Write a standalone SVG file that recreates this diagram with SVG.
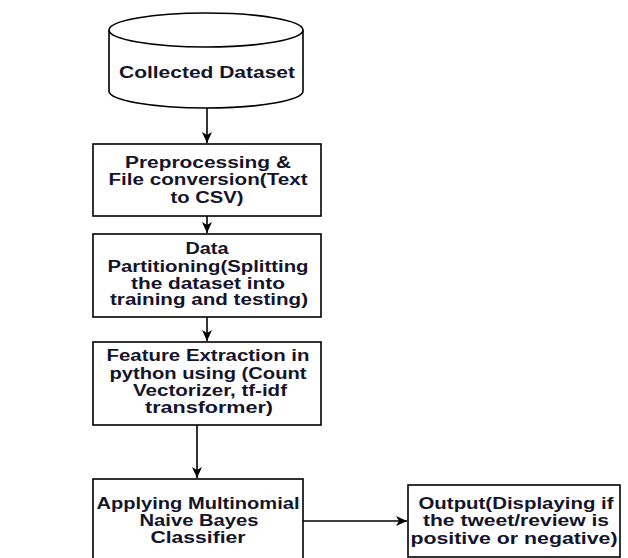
<svg xmlns="http://www.w3.org/2000/svg" width="628" height="558" viewBox="0 0 628 558">
<style>
.shape{fill:#fff;stroke:#000;stroke-width:1.6}
.lbl{font-family:"Liberation Sans",Arial,sans-serif;font-weight:bold;font-size:16px;fill:#14142a;text-anchor:middle}
.conn{fill:none;stroke:#000;stroke-width:1.6}
</style>
<defs>
<marker id="arr" markerUnits="userSpaceOnUse" markerWidth="12" markerHeight="12" viewBox="0 0 12 12" refX="11" refY="6" orient="auto">
<path d="M0,1 L11,6 L0,11 L3,6 Z" fill="#000"/>
</marker>
</defs>
<rect width="628" height="558" fill="#fff"/>
<g id="connectors">
<path class="conn" d="M207,108 L207,143" marker-end="url(#arr)"/>
<path class="conn" d="M207,216 L207,233" marker-end="url(#arr)"/>
<path class="conn" d="M207,317 L207,341" marker-end="url(#arr)"/>
<path class="conn" d="M197,425 L197,478" marker-end="url(#arr)"/>
<path class="conn" d="M303,521 L407,521" marker-end="url(#arr)"/>
</g>
<g id="collected-dataset">
<path class="shape" d="M109,30 A97,17 0 0,1 303,30 L303,91 A97,17 0 0,1 109,91 Z"/>
<path class="shape" d="M109,30 A97,17 0 0,0 303,30" fill="none"/>
<text class="lbl" x="207" y="78" textLength="176" lengthAdjust="spacingAndGlyphs">Collected Dataset</text>
</g>
<g id="preprocessing">
<rect class="shape" x="93" y="144" width="228" height="72"/>
<text class="lbl" x="208" y="168" textLength="166" lengthAdjust="spacingAndGlyphs">Preprocessing &amp;</text>
<text class="lbl" x="208" y="185" textLength="199" lengthAdjust="spacingAndGlyphs">File conversion(Text</text>
<text class="lbl" x="207" y="203" textLength="73" lengthAdjust="spacingAndGlyphs">to CSV)</text>
</g>
<g id="data-partitioning">
<rect class="shape" x="93" y="234" width="228" height="83"/>
<text class="lbl" x="207" y="254" textLength="43" lengthAdjust="spacingAndGlyphs">Data</text>
<text class="lbl" x="208" y="272" textLength="201" lengthAdjust="spacingAndGlyphs">Partitioning(Splitting</text>
<text class="lbl" x="208" y="289" textLength="154" lengthAdjust="spacingAndGlyphs">the dataset into</text>
<text class="lbl" x="209" y="305" textLength="198" lengthAdjust="spacingAndGlyphs">training and testing)</text>
</g>
<g id="feature-extraction">
<rect class="shape" x="93" y="342" width="228" height="83"/>
<text class="lbl" x="208" y="361" textLength="203" lengthAdjust="spacingAndGlyphs">Feature Extraction in</text>
<text class="lbl" x="208" y="379" textLength="197" lengthAdjust="spacingAndGlyphs">python using (Count</text>
<text class="lbl" x="210" y="396" textLength="154" lengthAdjust="spacingAndGlyphs">Vectorizer, tf-idf</text>
<text class="lbl" x="209" y="413" textLength="128" lengthAdjust="spacingAndGlyphs">transformer)</text>
</g>
<g id="naive-bayes">
<rect class="shape" x="93" y="479" width="210" height="90"/>
<text class="lbl" x="198" y="509" textLength="203" lengthAdjust="spacingAndGlyphs">Applying Multinomial</text>
<text class="lbl" x="199" y="526" textLength="119" lengthAdjust="spacingAndGlyphs">Naive Bayes</text>
<text class="lbl" x="198" y="543" textLength="95" lengthAdjust="spacingAndGlyphs">Classifier</text>
</g>
<g id="output">
<rect class="shape" x="408" y="485" width="212" height="72"/>
<text class="lbl" x="516" y="509" textLength="195" lengthAdjust="spacingAndGlyphs">Output(Displaying if</text>
<text class="lbl" x="516" y="526" textLength="186" lengthAdjust="spacingAndGlyphs">the tweet/review is</text>
<text class="lbl" x="514" y="544" textLength="207" lengthAdjust="spacingAndGlyphs">positive or negative)</text>
</g>
</svg>
